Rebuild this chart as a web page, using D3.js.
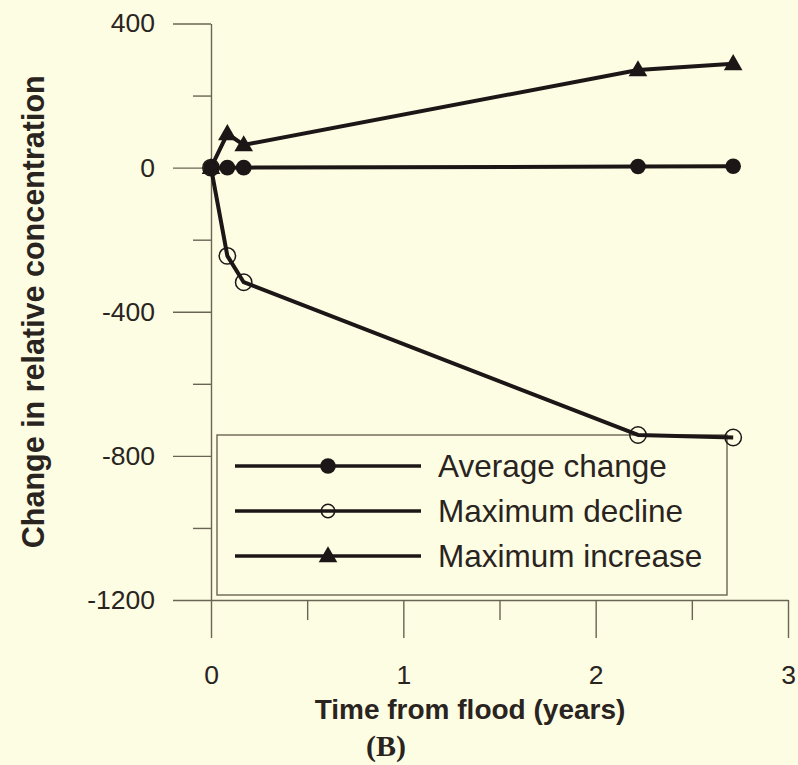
<!DOCTYPE html>
<html>
<head>
<meta charset="utf-8">
<script src="https://cdn.jsdelivr.net/npm/d3@7"></script>
<style>
  html, body { margin: 0; padding: 0; background: #fdfde4; }
  svg { display: block; }
</style>
</head>
<body>
<svg id="chart" width="798" height="765"></svg>
<script>
// Time after the flood (years) at each sampling
const years = [0, 0.085, 0.17, 2.22, 2.715];

// Change in relative concentration for each series
const averageChange   = [0, 0, 0, 3, 4];
const maximumDecline  = [0, -245, -318, -742, -749];
const maximumIncrease = [0, 94, 63, 271, 288];

const seriesNames = ["Average change", "Maximum decline", "Maximum increase"];
const seriesMarkers = ["filledCircle", "openCircle", "triangle"];

// Axis ticks
const yMajorTicks = [400, 0, -400, -800, -1200];
const yMinorTicks = [200, -200, -600, -1000];
const xMajorTicks = [0, 1, 2, 3];
const xMinorTicks = [0.5, 1.5, 2.5];

const ink = "#1c1616";
const axisInk = "#6a6452";
const textInk = "#2a2420";
const sans = "'Liberation Sans', Arial, sans-serif";

const svg = d3.select("#chart");

const x = d3.scaleLinear().domain([0, 3]).range([211, 788]);
const y = d3.scaleLinear().domain([-1200, 400]).range([600, 23.5]);

// Y axis: long major ticks with labels, short minor ticks
svg.append("g")
  .attr("transform", `translate(${x(0)},0)`)
  .call(d3.axisLeft(y).tickValues(yMajorTicks).tickSize(38).tickSizeOuter(0)
        .tickPadding(18).tickFormat(d => String(d)));
svg.append("g")
  .attr("transform", `translate(${x(0)},0)`)
  .call(d3.axisLeft(y).tickValues(yMinorTicks).tickSize(18).tickFormat(""))
  .select(".domain").remove();

// X axis
svg.append("g")
  .attr("transform", `translate(0,${y(-1200)})`)
  .call(d3.axisBottom(x).tickValues(xMajorTicks).tickSize(38).tickSizeOuter(0)
        .tickPadding(27).tickFormat(d => String(d)));
svg.append("g")
  .attr("transform", `translate(0,${y(-1200)})`)
  .call(d3.axisBottom(x).tickValues(xMinorTicks).tickSize(20).tickFormat(""))
  .select(".domain").remove();

svg.selectAll(".domain, .tick line")
  .attr("stroke", axisInk).attr("stroke-width", 1.4);
svg.selectAll(".tick text")
  .attr("font-family", sans).attr("font-size", 26.5).attr("fill", textInk);

// Axis titles
svg.append("text")
  .attr("x", 470).attr("y", 719)
  .attr("text-anchor", "middle")
  .attr("font-family", sans).attr("font-weight", "bold").attr("font-size", 28)
  .attr("fill", textInk)
  .text("Time from flood (years)");

svg.append("text")
  .attr("transform", `translate(44,${y(-400)}) rotate(-90)`)
  .attr("text-anchor", "middle")
  .attr("font-family", sans).attr("font-weight", "bold").attr("font-size", 30.5)
  .attr("fill", textInk)
  .text("Change in relative concentration");

svg.append("text")
  .attr("x", 386).attr("y", 756)
  .attr("text-anchor", "middle")
  .attr("font-family", "'Liberation Serif', 'Times New Roman', serif")
  .attr("font-weight", "bold").attr("font-size", 30)
  .attr("fill", textInk)
  .text("(B)");

// Marker drawing
function drawMarker(g, kind, cx, cy, scale) {
  if (kind === "filledCircle") {
    g.append("circle").attr("cx", cx).attr("cy", cy).attr("r", 7.8 * scale)
      .attr("fill", ink);
  } else if (kind === "openCircle") {
    g.append("circle").attr("cx", cx).attr("cy", cy).attr("r", 8.2 * scale)
      .attr("fill", "none").attr("stroke", ink).attr("stroke-width", 1.5);
  } else {
    const s = d3.symbol().type(d3.symbolTriangle).size(150 * scale * scale);
    g.append("path").attr("d", s()).attr("transform", `translate(${cx},${cy + 1})`)
      .attr("fill", ink);
  }
}

// Legend box
const legend = svg.append("g");
legend.append("rect")
  .attr("x", 217).attr("y", 435).attr("width", 510).attr("height", 160)
  .attr("fill", "#fdfde4").attr("stroke", axisInk).attr("stroke-width", 1.4);
const legendRows = [466, 511, 556];
seriesNames.forEach((name, i) => {
  legend.append("line")
    .attr("x1", 235).attr("x2", 421)
    .attr("y1", legendRows[i]).attr("y2", legendRows[i])
    .attr("stroke", ink).attr("stroke-width", 3.5);
  drawMarker(legend, seriesMarkers[i], 328, legendRows[i], i === 1 ? 0.82 : 1);
  legend.append("text")
    .attr("x", 438).attr("y", legendRows[i] + 11)
    .attr("font-family", sans).attr("font-size", 31.5).attr("fill", textInk)
    .text(name);
});

// Data series
const seriesValues = [averageChange, maximumDecline, maximumIncrease];
const line = d3.line().x(d => x(d[0])).y(d => y(d[1]));
seriesValues.forEach((vals, i) => {
  const pts = years.map((t, j) => [t, vals[j]]);
  const g = svg.append("g");
  g.append("path").attr("d", line(pts))
    .attr("fill", "none").attr("stroke", ink).attr("stroke-width", 4)
    .attr("stroke-linejoin", "round");
  pts.forEach(p => drawMarker(g, seriesMarkers[i], x(p[0]), y(p[1]), 1));
});
</script>
</body>
</html>
